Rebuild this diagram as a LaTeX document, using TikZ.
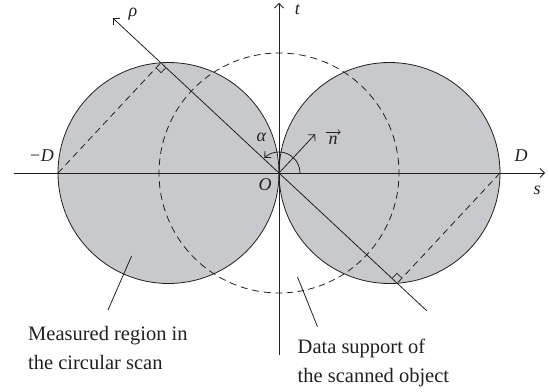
\documentclass[tikz,border=0pt]{standalone}
\usepackage{fontspec}
\setmainfont{Liberation Serif}
\usetikzlibrary{arrows.meta,calc}
\definecolor{regionfill}{RGB}{200,201,204}
\definecolor{inkc}{RGB}{35,31,32}
\tikzset{
  ln/.style={line width=0.8pt, draw=inkc},
  arr/.style={ln, -{Straight Barb[length=4.5pt,width=9pt,line width=0.8pt]}},
  smallarr/.style={line width=0.6pt, draw=inkc, -{Straight Barb[length=2.5pt,width=5pt,line width=0.6pt]}},
  dashln/.style={ln, dash pattern=on 6.5pt off 4.5pt},
  lbl/.style={inner sep=0pt, text=inkc, font=\fontsize{18}{20}\selectfont\itshape},
  txt/.style={inner sep=0pt, text=inkc, align=left, font=\fontsize{20.5}{29}\selectfont}
}
\begin{document}
\begin{tikzpicture}[x=1pt,y=1pt]
\useasboundingbox (-279,-218) rectangle (270,173);
\coordinate (O) at (0,0);
\coordinate (rhotip) at (137:227);
\coordinate (rhoend) at (-43:202);
\coordinate (mD) at (-221,0);
\coordinate (pD) at (221,0);
\coordinate (P1) at ($(O)!(mD)!(rhotip)$);
\coordinate (P2) at ($(O)!(pD)!(rhoend)$);
% shaded regions
\fill[regionfill] (-110.5,0) circle[radius=110.5pt];
\fill[regionfill] (110.5,0) circle[radius=110.5pt];
\draw[ln] (-110.5,0) circle[radius=110.5pt];
\draw[ln] (110.5,0) circle[radius=110.5pt];
% dashed data support circle
\foreach \a/\b in {0/90,90/137,137/180,180/270,270/317,317/360}{
  \pgfmathsetmacro\L{2.0944*(\b-\a)}
  \pgfmathsetmacro\nn{max(1,round(\L/11.5))}
  \pgfmathsetmacro\pp{\L/\nn}
  \pgfmathsetmacro\dson{0.6*\pp}
  \pgfmathsetmacro\dsoff{0.4*\pp}
  \pgfmathsetmacro\dsph{0.3*\pp}
  \draw[ln, dash pattern=on \dson pt off \dsoff pt, dash phase=\dsph pt] (\a:120) arc[start angle=\a, end angle=\b, radius=120pt];
}
% dashed perpendiculars
\draw[dashln] (mD) -- (P1);
\draw[dashln] (pD) -- (P2);
% right-angle marks
\begin{scope}[shift={(P1)}, rotate=-43]
  \draw[ln, line width=0.7pt] (7,0) -- (7,-7) -- (0,-7);
\end{scope}
\begin{scope}[shift={(P2)}, rotate=137]
  \draw[ln, line width=0.7pt] (7,0) -- (7,-7) -- (0,-7);
\end{scope}
% axes
\coordinate (sL) at (-265,0);
\coordinate (sR) at (266,0);
\coordinate (tB) at (0,-182);
\coordinate (tT) at (0,170);
\draw[arr] (sL) -- (sR);
\draw[arr] (tB) -- (tT);
% rho line
\draw[arr] (rhoend) -- (rhotip);
% normal vector and angle
\coordinate (ntip) at (47:53);
\draw[arr] (O) -- (ntip);
\draw[arr] (21,0) arc[start angle=0, end angle=134, radius=21pt];
% labels
\node[lbl] (lrho) at (-146,159) {ρ};
\node[lbl] (lt) at (18.5,163) {t};
\node[lbl] (lalpha) at (-17.6,36) {α};
\node[lbl] (lnvec) at (54,33) {n};
\coordinate (nvA) at ($(lnvec.north west)+(-2,3.5)$);
\coordinate (nvB) at ($(lnvec.north east)+(3,3.5)$);
\draw[smallarr] (nvA) -- (nvB);
\node[lbl] (lmD) at (-237.6,17) {−D};
\node[lbl] (lpD) at (242,17) {D};
\node[lbl] (lO) at (-14,-12) {O};
\node[lbl] (ls) at (258,-17) {s};
% text labels
\node[txt, anchor=west] (meas) at (-251,-174.5) {Measured region in\\the circular scan};
\node[txt, anchor=west] (data) at (18.5,-190) {Data support of\\the scanned object};
\coordinate (m1) at (-171,-137);
\coordinate (m2) at (-147.4,-83);
\coordinate (d1) at (38.5,-153.7);
\coordinate (d2) at (18.5,-104);
\draw[ln] (m1) -- (m2);
\draw[ln] (d1) -- (d2);
\end{tikzpicture}
\end{document}
